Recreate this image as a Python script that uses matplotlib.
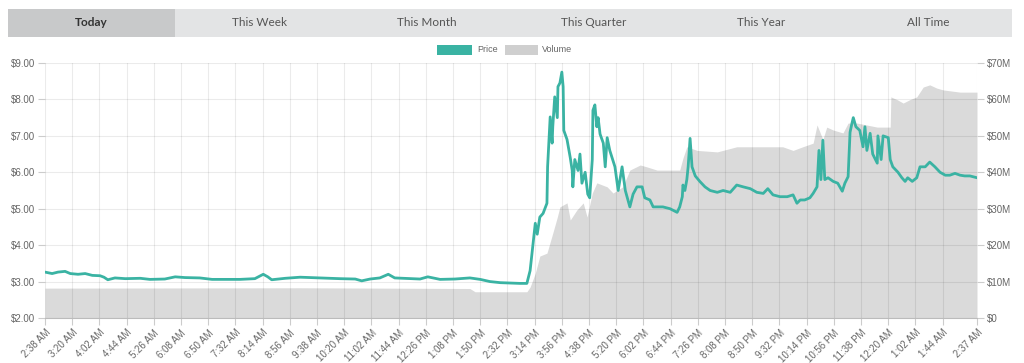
import matplotlib
matplotlib.use("Agg")
import matplotlib.pyplot as plt
from matplotlib.patches import Rectangle
from matplotlib.ticker import FuncFormatter

# price, minutes since 2:38 AM -> USD
price_min = [0, 11, 20, 31, 39, 51, 62, 73, 85, 91, 97, 108, 124, 147, 162, 185, 201, 216, 239, 258,
             273, 301, 324, 337, 344, 350, 371, 394, 425, 455, 479, 489, 502, 517, 530, 540, 564, 579,
             591, 610, 633, 656, 672, 687, 703, 718, 733, 744, 749, 753, 757, 760, 764, 769, 775, 776,
             780, 783, 784, 787, 791, 792, 795, 798, 800, 801, 806, 811, 814, 815, 818, 823, 826, 829,
             834, 838, 841, 845, 846, 849, 852, 854, 857, 862, 865, 868, 872, 880, 885, 891, 896, 903,
             908, 914, 922, 926, 934, 939, 945, 954, 965, 976, 980, 984, 985, 988, 991, 993, 996, 999,
             1004, 1011, 1019, 1027, 1038, 1047, 1058, 1068, 1078, 1089, 1099, 1109, 1116, 1124, 1135,
             1146, 1155, 1161, 1166, 1173, 1181, 1186, 1192, 1195, 1198, 1201, 1204, 1209, 1217, 1224,
             1231, 1235, 1240, 1243, 1246, 1248, 1252, 1258, 1263, 1266, 1269, 1274, 1278, 1285, 1286,
             1291, 1294, 1302, 1305, 1309, 1317, 1323, 1328, 1332, 1339, 1346, 1351, 1359, 1366, 1374,
             1382, 1390, 1397, 1405, 1413, 1420, 1428, 1439]
price_val = [3.26, 3.22, 3.26, 3.28, 3.22, 3.20, 3.22, 3.17, 3.16, 3.12, 3.05, 3.10, 3.08, 3.09, 3.06,
             3.07, 3.13, 3.11, 3.10, 3.06, 3.06, 3.06, 3.08, 3.20, 3.13, 3.05, 3.09, 3.12, 3.10, 3.08,
             3.07, 3.02, 3.07, 3.10, 3.20, 3.10, 3.08, 3.07, 3.13, 3.06, 3.07, 3.10, 3.06, 3.00, 2.97,
             2.96, 2.95, 2.95, 3.30, 3.95, 4.60, 4.30, 4.77, 4.87, 5.15, 6.15, 7.52, 6.80, 7.25, 8.07,
             7.50, 8.35, 8.45, 8.75, 8.35, 7.15, 6.90, 6.40, 6.05, 5.60, 6.35, 6.05, 6.50, 5.70, 6.00,
             5.40, 5.30, 6.35, 7.70, 7.85, 7.25, 7.50, 7.05, 6.80, 6.15, 6.95, 6.60, 6.15, 5.50, 6.15,
             5.50, 5.05, 5.40, 5.60, 5.60, 5.30, 5.24, 5.05, 5.05, 5.05, 5.00, 4.90, 5.05, 5.33, 5.65,
             5.50, 5.80, 6.15, 6.93, 6.15, 5.90, 5.75, 5.60, 5.50, 5.45, 5.50, 5.45, 5.65, 5.60, 5.55,
             5.45, 5.42, 5.55, 5.38, 5.33, 5.33, 5.38, 5.15, 5.24, 5.24, 5.30, 5.42, 5.60, 6.60, 5.80,
             6.88, 5.80, 5.85, 5.75, 5.70, 5.48, 5.70, 5.88, 7.10, 7.35, 7.50, 7.25, 7.15, 6.70, 7.25,
             6.60, 7.07, 6.50, 6.25, 7.00, 6.35, 7.00, 6.95, 6.35, 6.15, 6.00, 5.85, 5.75, 5.85, 5.75,
             5.85, 6.15, 6.15, 6.28, 6.15, 6.00, 5.92, 5.92, 5.97, 5.92, 5.90, 5.90, 5.85]

# volume, minutes -> millions USD
vol_min = [0, 394, 656, 664, 744, 749, 757, 764, 775, 784, 791, 795, 806, 811, 821, 831, 837, 845, 852,
           868, 877, 892, 903, 919, 929, 945, 970, 980, 985, 991, 1007, 1038, 1068, 1099, 1139, 1155,
           1170, 1186, 1192, 1201, 1207, 1217, 1232, 1240, 1254, 1285, 1305, 1306, 1316, 1325, 1336,
           1346, 1356, 1366, 1377, 1387, 1413, 1439]
vol_val = [8.2, 8.3, 8.1, 7.2, 7.2, 8.5, 12.3, 17.0, 17.8, 23.3, 27.7, 30.5, 31.6, 26.9, 29.6, 31.6,
           27.7, 34.3, 37.1, 36.0, 34.3, 36.0, 40.6, 42.0, 41.5, 40.6, 40.6, 40.6, 43.9, 47.0, 46.0,
           45.6, 47.0, 47.0, 47.0, 46.0, 47.0, 48.0, 53.0, 49.0, 52.4, 51.6, 50.8, 53.5, 53.5, 52.4,
           52.4, 60.7, 59.9, 59.0, 60.0, 60.7, 63.4, 64.0, 63.1, 62.6, 62.0, 62.0]

tick_min = [i * 42 for i in range(34)] + [1439]
tick_labels = ["2:38 AM", "3:20 AM", "4:02 AM", "4:44 AM", "5:26 AM", "6:08 AM", "6:50 AM",
               "7:32 AM", "8:14 AM", "8:56 AM", "9:38 AM", "10:20 AM", "11:02 AM", "11:44 AM",
               "12:26 PM", "1:08 PM", "1:50 PM", "2:32 PM", "3:14 PM", "3:56 PM", "4:38 PM",
               "5:20 PM", "6:02 PM", "6:44 PM", "7:26 PM", "8:08 PM", "8:50 PM", "9:32 PM",
               "10:14 PM", "10:56 PM", "11:38 PM", "12:20 AM", "1:02 AM", "1:44 AM", "2:37 AM"]
tabs = ["Today", "This Week", "This Month", "This Quarter", "This Year", "All Time"]

teal = "#3ab3a3"
grey = "#dadada"
txt = "#666666"

plt.rcParams["font.family"] = ["Liberation Sans", "DejaVu Sans"]
fig = plt.figure(figsize=(10.24, 3.63), dpi=100)
W, H = 1024, 363

# tab bar
tab_w = (1012 - 8) / len(tabs)
for i, name in enumerate(tabs):
    x0 = 8 + i * tab_w
    fig.patches.append(Rectangle((x0 / W, 1 - 37 / H), tab_w / W, 28 / H,
                                 transform=fig.transFigure, color="#c8c9ca" if i == 0 else "#e3e4e5",
                                 lw=0))
    fig.text((x0 + tab_w / 2) / W, 1 - 23 / H, name, ha="center", va="center", fontsize=8.5,
             family=["Lato", "DejaVu Sans"], weight="bold" if i == 0 else "normal",
             color="#333333" if i == 0 else "#555555")

# legend
fig.patches.append(Rectangle((437 / W, 1 - 55 / H), 35 / W, 10 / H, transform=fig.transFigure,
                             color=teal, lw=0))
fig.text(477 / W, 1 - 50 / H, "Price", fontsize=6.5, color=txt, va="center")
fig.patches.append(Rectangle((505 / W, 1 - 55 / H), 33 / W, 10 / H, transform=fig.transFigure,
                             color="#cfcfcf", lw=0))
fig.text(542 / W, 1 - 50 / H, "Volume", fontsize=6.5, color=txt, va="center")

ax = fig.add_axes([45 / W, 1 - 318 / H, 932 / W, 255 / H])
axv = ax.twinx()
ax.set_zorder(axv.get_zorder() + 1)
ax.patch.set_visible(False)

axv.fill_between(vol_min, 0, vol_val, color=grey, lw=0)
axv.set_ylim(0, 70)
axv.set_yticks(range(0, 71, 10))
axv.yaxis.set_major_formatter(FuncFormatter(lambda v, p: "$0" if v == 0 else f"${int(v)}M"))

ax.plot(price_min, price_val, color=teal, lw=2, zorder=3)
ax.set_ylim(2, 9)
ax.set_yticks(range(2, 10))
ax.yaxis.set_major_formatter(FuncFormatter(lambda v, p: f"${v:.2f}"))
ax.set_xlim(0, 1439)
ax.set_xticks(tick_min)
ax.set_xticklabels(tick_labels, rotation=45, ha="right", rotation_mode="anchor")
ax.grid(True, color="black", alpha=0.08, lw=0.8, zorder=1)
ax.set_axisbelow(True)

for a in (ax, axv):
    for s in a.spines.values():
        s.set_visible(False)
    a.tick_params(colors="#cccccc", labelcolor=txt, labelsize=7, length=5, width=0.8, pad=2)
ax.spines["bottom"].set_visible(True)
ax.spines["bottom"].set_color("#bbbbbb")
axv.set_xlim(0, 1439)

fig.savefig("out.png", dpi=100, facecolor="white")
